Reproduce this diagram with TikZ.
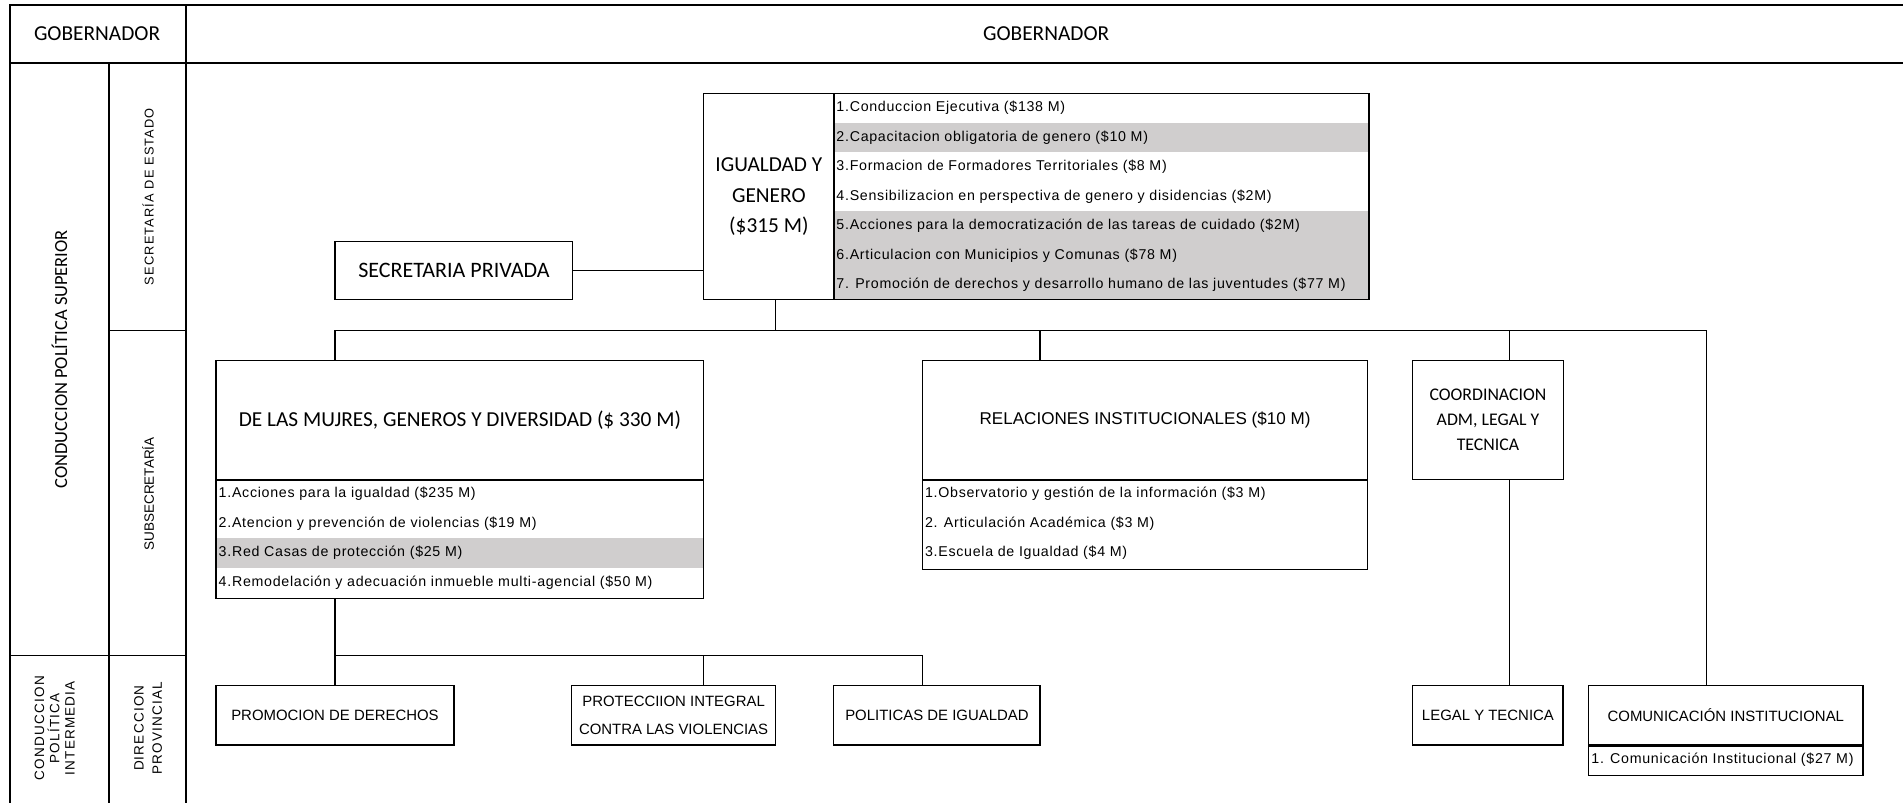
\documentclass[tikz,border=0pt]{standalone}
\usepackage{fontspec}
\setmainfont{Liberation Sans}
\newfontfamily\calfont{Carlito}
\newfontfamily\listfont[LetterSpace=5]{Liberation Sans}
\newfontfamily\spacedfont[LetterSpace=9]{Liberation Sans}
\definecolor{rowgrey}{RGB}{208,206,206}
\def\unitpx{0.03cm}

\tikzset{
  box/.style={draw, line width=0.8pt, inner sep=0pt, align=center},
  unit/.style={box, font=\calfont\fontsize{15}{21.3}\selectfont},
  office/.style={box, line width=1pt, minimum height=49*\unitpx, font=\fontsize{10.5}{19.5}\selectfont},
  listbox/.style={box, anchor=north west},
  rowitem/.style={anchor=west, inner sep=0pt, font=\listfont\fontsize{10}{12}\selectfont},
  side/.style={rotate=90, align=center},
  link/.style={line width=0.8pt},
  rule/.style={line width=1.2pt},
}

\begin{document}
\begin{tikzpicture}[x=\unitpx, y=-\unitpx]
    \useasboundingbox (0,0) rectangle (1568,661.6);

    % marco de niveles
    \draw[rule] (8,662) -- (8,4) -- (1568,4);
    \draw[rule] (8,52) -- (1568,52);
    \draw[rule] (153,4) -- (153,662);
    \draw[rule] (90,52) -- (90,662);
    \draw[link] (90,272) -- (153,272);
    \draw[rule] (8,540) -- (153,540);

    \node[font=\calfont\fontsize{15}{18}\selectfont] (gobL) at (80,28) {GOBERNADOR};
    \node[font=\calfont\fontsize{15}{18}\selectfont] (gobR) at (862,28) {GOBERNADOR};
    \node[side, font=\calfont\fontsize{13}{15}\selectfont] (cps) at (49,296) {CONDUCCION POLÍTICA SUPERIOR};
    \node[side, font=\spacedfont\fontsize{9}{12}\selectfont] (sde) at (122,162) {SECRETARÍA DE ESTADO};
    \node[side, font=\fontsize{9.5}{12}\selectfont] (sub) at (122,407) {SUBSECRETARÍA};
    \node[side, font=\spacedfont\fontsize{9.5}{10.7}\selectfont] (cpi) at (45,600) {CONDUCCION\\POLÍTICA\\INTERMEDIA};
    \node[side, font=\spacedfont\fontsize{9.5}{12.8}\selectfont] (dpr) at (122,600) {DIRECCION\\PROVINCIAL};

    % secretaria de estado
    \node[unit, font=\calfont\fontsize{15.5}{18}\selectfont, minimum width=196*\unitpx, minimum height=48*\unitpx] (priv) at (374,223) {SECRETARIA PRIVADA};
    \node[unit, minimum width=107*\unitpx, minimum height=170*\unitpx] (igbox) at (633.5,162) {IGUALDAD Y\\GENERO\\(\$315 M)};

    \foreach \r in {2,5,6,7}
        \fill[rowgrey] (687,{77+24.29*(\r-1)}) rectangle (1127,{77+24.29*\r});
    \node[listbox, minimum width=440*\unitpx, minimum height=170*\unitpx] (iglist) at (igbox.north east) {};
    \foreach \i/\txt in {
        1/{1.Conduccion Ejecutiva (\$138 M)},
        2/{2.Capacitacion obligatoria de genero (\$10 M)},
        3/{3.Formacion de Formadores Territoriales (\$8 M)},
        4/{4.Sensibilizacion en perspectiva de genero y disidencias (\$2M)},
        5/{5.Acciones para la democratización de las tareas de cuidado (\$2M)},
        6/{6.Articulacion con Municipios y Comunas (\$78 M)},
        7/{7. Promoción de derechos y desarrollo humano de las juventudes (\$77 M)}}
        \node[rowitem] (ig-\i) at (689,{77+24.29*(\i-0.5)}) {\txt};

    % subsecretarias
    \node[unit, minimum width=402*\unitpx, minimum height=98*\unitpx] (muj) at (379,346) {DE LAS MUJRES, GENEROS Y DIVERSIDAD (\$ 330 M)};
    \fill[rowgrey] (178,{395+24.25*2}) rectangle (580,{395+24.25*3});
    \node[listbox, minimum width=402*\unitpx, minimum height=97*\unitpx] (mujlist) at (muj.south west) {};
    \foreach \i/\txt in {
        1/{1.Acciones para la igualdad (\$235 M)},
        2/{2.Atencion y prevención de violencias (\$19 M)},
        3/{3.Red Casas de protección (\$25 M)},
        4/{4.Remodelación y adecuación inmueble multi-agencial (\$50 M)}}
        \node[rowitem] (muj-\i) at (180,{395+24.25*(\i-0.5)}) {\txt};

    \node[box, font=\fontsize{12}{14}\selectfont, minimum width=367*\unitpx, minimum height=98*\unitpx] (rel) at (943.5,346) {RELACIONES INSTITUCIONALES (\$10 M)};
    \node[listbox, minimum width=367*\unitpx, minimum height=73*\unitpx] (rellist) at (rel.south west) {};
    \foreach \i/\txt in {
        1/{1.Observatorio y gestión de la información (\$3 M)},
        2/{2. Articulación Académica (\$3 M)},
        3/{3.Escuela de Igualdad (\$4 M)}}
        \node[rowitem] (rel-\i) at (762,{395+24.3*(\i-0.5)}) {\txt};

    \node[box, font=\calfont\fontsize{12.5}{17.6}\selectfont, minimum width=124*\unitpx, minimum height=98*\unitpx] (coord) at (1226,346) {COORDINACION\\ADM, LEGAL Y\\TECNICA};

    % direcciones provinciales
    \node[office, minimum width=196*\unitpx] (promo) at (276,589.5) {PROMOCION DE DERECHOS};
    \node[office, minimum width=168*\unitpx] (protec) at (555,589.5) {PROTECCIION INTEGRAL\\CONTRA LAS VIOLENCIAS};
    \node[office, minimum width=170*\unitpx] (polit) at (772,589.5) {POLITICAS DE IGUALDAD};
    \node[office, minimum width=124*\unitpx] (legal) at (1226,589.5) {LEGAL Y TECNICA};
    \node[office, minimum width=226*\unitpx] (comu) at (1422,589.5) {COMUNICACIÓN INSTITUCIONAL};
    \node[listbox, line width=1pt, minimum width=226*\unitpx, minimum height=24*\unitpx] (comulist) at (comu.south west) {};
    \node[rowitem] (comu-1) at (1311,626) {1. Comunicación Institucional (\$27 M)};

    % conexiones
    \coordinate (busw) at (276,272);
    \coordinate (buse) at (1406,272);
    \coordinate (igdown) at (639,272);
    \coordinate (relup) at (857,272);
    \coordinate (coordup) at (1244,272);
    \draw[link] (priv.east) -- (priv.east -| igbox.west);
    \draw[link] (igdown |- igbox.south) -- (igdown);
    \draw[link] (busw) -- (buse);
    \draw[link] (busw) -- (busw |- muj.north);
    \draw[rule] (relup) -- (relup |- rel.north);
    \draw[link] (coordup) -- (coordup |- coord.north);
    \draw[link] (buse) -- (buse |- comu.north);
    \draw[link] (coordup |- coord.south) -- (coordup |- legal.north);

    \coordinate (dirw) at (276,540);
    \coordinate (dire) at (760,540);
    \coordinate (protup) at (580,540);
    \draw[link] (mujlist.south -| dirw) -- (promo.north);
    \draw[rule] (dirw) -- (dire);
    \draw[link] (protup) -- (protup |- protec.north);
    \draw[rule] (dire) -- (dire |- polit.north);

\end{tikzpicture}
\end{document}
